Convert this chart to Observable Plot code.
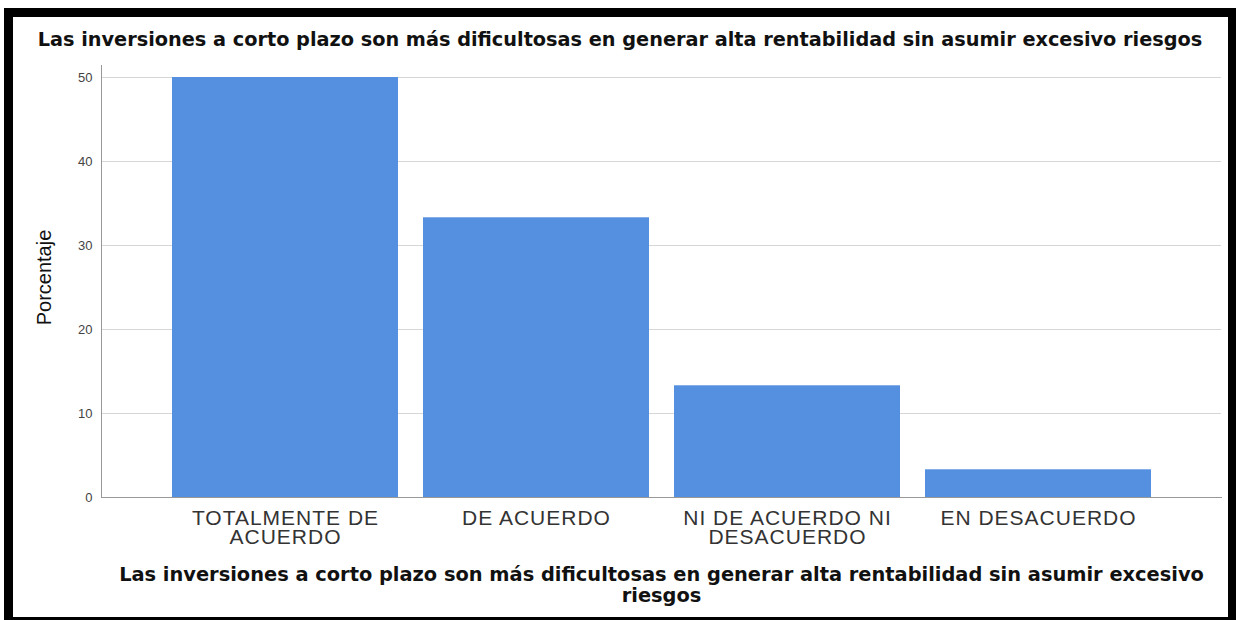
<!DOCTYPE html>
<html>
<head>
<meta charset="utf-8">
<script src="https://cdn.jsdelivr.net/npm/d3@7"></script>
<script src="https://cdn.jsdelivr.net/npm/@observablehq/plot@0.6"></script>
<style>
  html, body { margin: 0; padding: 0; background: #ffffff; }
  #wrap { position: relative; width: 1236px; height: 620px; overflow: hidden; background: #fff; }
  #chart { position: absolute; left: 0; top: 0; }
  #title {
    position: absolute; left: 2px; top: 30px; width: 1236px; text-align: center;
    font-family: "DejaVu Sans", sans-serif; font-weight: bold; font-size: 19.3px; line-height: 19px;
    color: #111; white-space: nowrap;
  }
  #border {
    position: absolute; left: 4px; top: 8px; width: 1232px; height: 612px; box-sizing: border-box;
    border-style: solid; border-color: #000; border-width: 9px 8px 3px 9px; pointer-events: none;
  }
  svg [aria-label="x-axis tick label"] text { letter-spacing: 1px; }
</style>
</head>
<body>
<div id="wrap">
  <div id="chart"></div>
  <div id="title"></div>
  <div id="border"></div>
</div>
<script>
const chartTitle = "Las inversiones a corto plazo son más dificultosas en generar alta rentabilidad sin asumir excesivo riesgos";
const xTitleLines = ["Las inversiones a corto plazo son más dificultosas en generar alta rentabilidad sin asumir excesivo", "riesgos"];
const yTitle = "Porcentaje";
const categories = ["TOTALMENTE DE ACUERDO", "DE ACUERDO", "NI DE ACUERDO NI DESACUERDO", "EN DESACUERDO"];
const tickLabels = ["TOTALMENTE DE\nACUERDO", "DE ACUERDO", "NI DE ACUERDO NI\nDESACUERDO", "EN DESACUERDO"];
const percentages = [50.0, 33.3, 13.3, 3.3];
const yTicks = [0, 10, 20, 30, 40, 50];

const data = categories.map((c, i) => ({category: c, value: percentages[i]}));
const labelOf = (d) => tickLabels[categories.indexOf(d)];

document.getElementById("title").textContent = chartTitle;

const plot = Plot.plot({
  width: 1236,
  height: 620,
  marginLeft: 101,
  marginRight: 15,
  marginTop: 65,
  marginBottom: 123,
  style: {background: "transparent", fontFamily: "'Liberation Sans', Arial, sans-serif", overflow: "visible"},
  x: {domain: categories, paddingInner: 0.1, paddingOuter: 0.277, label: null},
  y: {domain: [0, 51.43], label: null},
  marks: [
    Plot.gridY(yTicks, {stroke: "#d6d6d6", strokeOpacity: 1}),
    Plot.barY(data, {x: "category", y: "value", fill: "#5590e0"}),
    Plot.axisY(yTicks, {tickSize: 0, tickPadding: 9, fontSize: 13, fill: "#444", label: null}),
    Plot.axisX({tickSize: 0, tickPadding: 14, fontSize: 21, fill: "#333", lineHeight: 0.9,
      tickFormat: labelOf, lineAnchor: "top", label: null}),
    Plot.frame({anchor: "left", stroke: "#999"}),
    Plot.frame({anchor: "bottom", stroke: "#999"}),
    Plot.text([yTitle], {frameAnchor: "left", textAnchor: "middle", dx: -57, dy: -4, rotate: -90, fontSize: 20, fill: "#111"}),
    Plot.text([xTitleLines.join("\n")], {frameAnchor: "bottom", lineAnchor: "top", dy: 68, fontSize: 19.4,
      fontWeight: "bold", fontFamily: "DejaVu Sans", lineHeight: 1.1, fill: "#111"})
  ]
});
document.getElementById("chart").appendChild(plot);
</script>
</body>
</html>
